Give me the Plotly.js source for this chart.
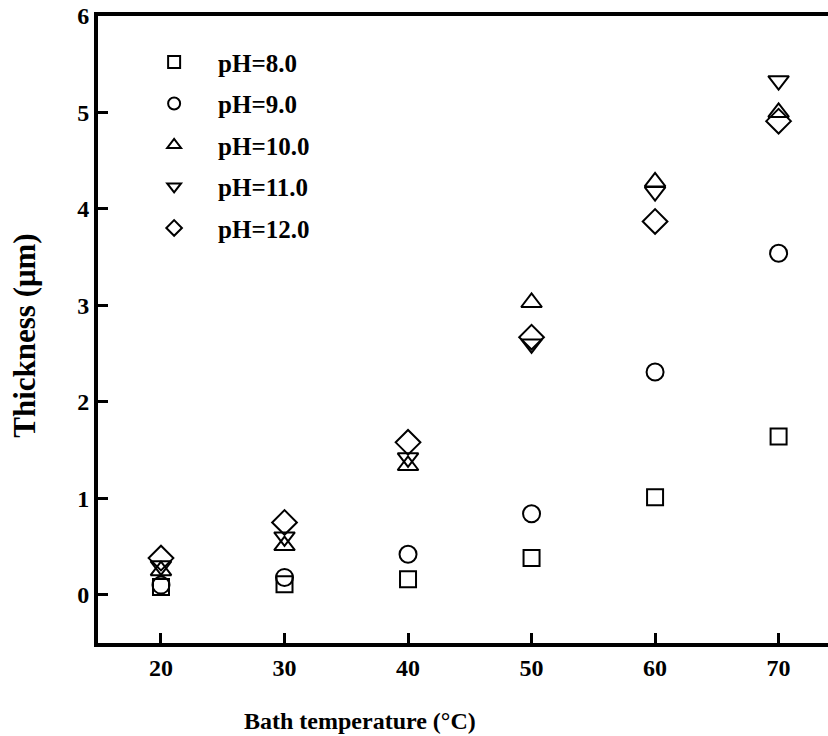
<!DOCTYPE html>
<html>
<head>
<meta charset="utf-8">
<script src="https://cdn.plot.ly/plotly-3.0.1.min.js"></script>
<style>body{margin:0;padding:0;background:#fff;}#chart{width:828px;height:736px;}</style>
</head>
<body>
<div id="chart"></div>
<script>
const temperature = [20, 30, 40, 50, 60, 70];
const seriesNames = ["pH=8.0", "pH=9.0", "pH=10.0", "pH=11.0", "pH=12.0"];
const pH8  = [0.08, 0.11, 0.16, 0.38, 1.01, 1.64];
const pH9  = [0.10, 0.18, 0.42, 0.84, 2.31, 3.54];
const pH10 = [0.25, 0.51, 1.34, 3.03, 4.28, 5.00];
const pH11 = [0.30, 0.60, 1.42, 2.60, 4.18, 5.33];
const pH12 = [0.38, 0.75, 1.58, 2.67, 3.87, 4.91];
const xTicks = [20, 30, 40, 50, 60, 70];
const yTicks = [0, 1, 2, 3, 4, 5, 6];

const seriesValues = [pH8, pH9, pH10, pH11, pH12];
const symbols = ["square-open", "circle-open", "triangle-up-open", "triangle-down-open", "diamond-open"];
const sizes = [16, 17, 18, 18, 19];

const traces = seriesValues.map((vals, i) => ({
  type: "scatter",
  mode: "markers",
  x: temperature,
  y: vals,
  name: seriesNames[i],
  legendgroup: "g" + i,
  marker: {symbol: symbols[i], size: sizes[i], color: "#000", line: {width: 2, color: "#000"}},
  cliponaxis: false
}));

const font = "'Liberation Serif', 'Times New Roman', serif";
const layout = {
  width: 828, height: 736,
  margin: {l: 98, r: 0, t: 16, b: 93},
  paper_bgcolor: "#fff", plot_bgcolor: "#fff",
  showlegend: true,
  legend: {
    x: 0.044, y: 0.963, xanchor: "left", yanchor: "top",
    font: {family: font, size: 25, color: "#000", weight: "bold"},
    bgcolor: "rgba(0,0,0,0)", borderwidth: 0,
    traceorder: "grouped", tracegroupgap: 6, itemwidth: 78, itemsizing: "constant"
  },
  xaxis: {
    range: [14.9, 74.0],
    tickvals: xTicks, ticktext: xTicks.map(String),
    ticks: "inside", ticklen: 10, tickwidth: 3, tickcolor: "#000",
    showline: true, linewidth: 4, linecolor: "#000", mirror: true,
    showgrid: false, zeroline: false,
    tickfont: {family: font, size: 24, color: "#000", weight: "bold"}
  },
  yaxis: {
    range: [-0.5, 6.0],
    tickvals: yTicks, ticktext: yTicks.map(String),
    ticks: "inside", ticklen: 10, tickwidth: 3, tickcolor: "#000",
    showline: true, linewidth: 4, linecolor: "#000", mirror: false,
    showgrid: false, zeroline: false,
    tickfont: {family: font, size: 24, color: "#000", weight: "bold"}
  },
  annotations: [
    {text: "Bath temperature (°C)", xref: "paper", yref: "paper", x: (360 - 98) / 730, y: -0.125,
     xanchor: "center", yanchor: "middle", showarrow: false,
     font: {family: font, size: 24, color: "#000", weight: "bold"}},
    {text: "Thickness (μm)", xref: "paper", yref: "paper", x: -0.1, y: 0.49, textangle: -90,
     xanchor: "center", yanchor: "middle", showarrow: false,
     font: {family: font, size: 31, color: "#000", weight: "bold"}}
  ]
};

Plotly.newPlot("chart", traces, layout, {staticPlot: true});
</script>
</body>
</html>
